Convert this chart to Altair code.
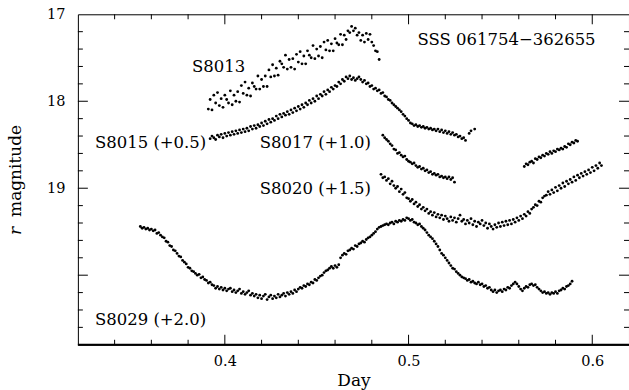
import altair as alt
import pandas as pd

# ---------------- data (plotted magnitudes incl. offsets) -------------
s8013_x = [0.391, 0.392, 0.393, 0.394, 0.395, 0.396, 0.397, 0.398, 0.399, 0.400,
           0.401, 0.402, 0.403, 0.404, 0.405, 0.406, 0.407, 0.408, 0.409, 0.410,
           0.411, 0.412, 0.413, 0.414, 0.415, 0.416, 0.417, 0.418, 0.419, 0.420,
           0.421, 0.422, 0.423, 0.424, 0.425, 0.426, 0.427, 0.428, 0.429, 0.430,
           0.431, 0.432, 0.433, 0.434, 0.435, 0.436, 0.437, 0.438, 0.439, 0.440,
           0.441, 0.442, 0.443, 0.444, 0.445, 0.446, 0.447, 0.448, 0.449, 0.450,
           0.451, 0.452, 0.453, 0.454, 0.455, 0.456, 0.457, 0.458, 0.459, 0.460,
           0.461, 0.462, 0.463, 0.464, 0.465, 0.466, 0.467, 0.468, 0.469, 0.470,
           0.471, 0.472, 0.473, 0.474, 0.475, 0.476, 0.477, 0.478, 0.479, 0.480,
           0.481, 0.482, 0.483, 0.484]
s8013_y = [18.09, 17.98, 18.10, 17.93, 18.02, 17.90, 18.05, 17.97, 18.07, 17.93,
           17.98, 18.02, 17.88, 18.04, 17.93, 18.00, 17.89, 18.01, 17.82, 17.91,
           17.78, 17.93, 17.85, 17.94, 17.79, 17.83, 17.86, 17.71, 17.86, 17.75,
           17.83, 17.71, 17.83, 17.64, 17.72, 17.58, 17.71, 17.62, 17.70, 17.54,
           17.57, 17.61, 17.47, 17.63, 17.52, 17.61, 17.51, 17.63, 17.46, 17.55,
           17.43, 17.57, 17.48, 17.57, 17.42, 17.47, 17.50, 17.36, 17.51, 17.40,
           17.48, 17.37, 17.50, 17.32, 17.41, 17.30, 17.42, 17.34, 17.42, 17.28,
           17.33, 17.35, 17.23, 17.35, 17.24, 17.29, 17.19, 17.21, 17.14, 17.19,
           17.16, 17.24, 17.21, 17.30, 17.24, 17.32, 17.22, 17.29, 17.23, 17.32,
           17.36, 17.42, 17.43, 17.52]

s8015_x = [0.392, 0.393, 0.394, 0.395, 0.396, 0.397, 0.398, 0.399, 0.400, 0.401,
           0.402, 0.403, 0.404, 0.405, 0.406, 0.407, 0.408, 0.409, 0.410, 0.411,
           0.412, 0.413, 0.414, 0.415, 0.416, 0.417, 0.418, 0.419, 0.420, 0.421,
           0.422, 0.423, 0.424, 0.425, 0.426, 0.427, 0.428, 0.429, 0.430, 0.431,
           0.432, 0.433, 0.434, 0.435, 0.436, 0.437, 0.438, 0.439, 0.440, 0.441,
           0.442, 0.443, 0.444, 0.445, 0.446, 0.447, 0.448, 0.449, 0.450, 0.451,
           0.452, 0.453, 0.454, 0.455, 0.456, 0.457, 0.458, 0.459, 0.460, 0.461,
           0.462, 0.463, 0.464, 0.465, 0.466, 0.467, 0.468, 0.469, 0.470, 0.471,
           0.472, 0.473, 0.474, 0.475, 0.476, 0.477, 0.478, 0.479, 0.480, 0.481,
           0.482, 0.483, 0.484, 0.485, 0.486, 0.487, 0.488, 0.489, 0.490, 0.491,
           0.492, 0.493, 0.494, 0.495, 0.496, 0.497, 0.498, 0.499, 0.500, 0.501,
           0.502, 0.503, 0.504, 0.505, 0.506, 0.507, 0.508, 0.509, 0.510, 0.511,
           0.512, 0.513, 0.514, 0.515, 0.516, 0.517, 0.518, 0.519, 0.520, 0.521,
           0.522, 0.523, 0.524, 0.525, 0.526, 0.527, 0.528, 0.529, 0.530, 0.531,
           0.533, 0.534, 0.536]
s8015_y = [18.43, 18.40, 18.42, 18.44, 18.39, 18.41, 18.38, 18.42, 18.37, 18.40,
           18.36, 18.39, 18.35, 18.38, 18.34, 18.37, 18.33, 18.36, 18.32, 18.35,
           18.31, 18.34, 18.29, 18.32, 18.28, 18.31, 18.27, 18.29, 18.25, 18.28,
           18.23, 18.26, 18.21, 18.24, 18.20, 18.22, 18.17, 18.20, 18.15, 18.18,
           18.14, 18.16, 18.12, 18.15, 18.10, 18.13, 18.08, 18.11, 18.06, 18.09,
           18.04, 18.07, 18.02, 18.04, 17.99, 18.02, 17.97, 18.00, 17.94, 17.97,
           17.92, 17.94, 17.89, 17.92, 17.87, 17.89, 17.84, 17.86, 17.82, 17.83,
           17.78, 17.80, 17.75, 17.77, 17.72, 17.74, 17.71, 17.75, 17.73, 17.76,
           17.74, 17.72, 17.75, 17.78, 17.76, 17.80, 17.79, 17.83, 17.82, 17.86,
           17.85, 17.88, 17.87, 17.91, 17.90, 17.94, 17.95, 17.98, 17.99, 18.02,
           18.04, 18.06, 18.08, 18.10, 18.12, 18.15, 18.17, 18.20, 18.22, 18.25,
           18.26, 18.28, 18.27, 18.29, 18.28, 18.30, 18.29, 18.31, 18.30, 18.32,
           18.31, 18.33, 18.32, 18.34, 18.32, 18.35, 18.33, 18.36, 18.34, 18.37,
           18.35, 18.38, 18.36, 18.39, 18.38, 18.41, 18.40, 18.43, 18.42, 18.45,
           18.37, 18.34, 18.32]

s8017_x = [0.486, 0.487, 0.488, 0.489, 0.490, 0.491, 0.492, 0.493, 0.494, 0.495,
           0.496, 0.497, 0.498, 0.499, 0.500, 0.501, 0.502, 0.503, 0.504, 0.505,
           0.506, 0.507, 0.508, 0.509, 0.510, 0.511, 0.512, 0.513, 0.514, 0.515,
           0.516, 0.517, 0.518, 0.519, 0.520, 0.521, 0.522, 0.523, 0.524, 0.525,
           0.563, 0.564, 0.565, 0.566, 0.567, 0.568, 0.569, 0.570, 0.571, 0.572,
           0.573, 0.574, 0.575, 0.576, 0.577, 0.578, 0.579, 0.580, 0.581, 0.582,
           0.583, 0.584, 0.585, 0.586, 0.587, 0.588, 0.589, 0.590, 0.591, 0.592]
s8017_y = [18.39, 18.42, 18.44, 18.46, 18.49, 18.51, 18.55, 18.56, 18.60, 18.59,
           18.62, 18.64, 18.63, 18.67, 18.69, 18.70, 18.72, 18.71, 18.74, 18.76,
           18.75, 18.78, 18.77, 18.80, 18.79, 18.82, 18.81, 18.84, 18.83, 18.85,
           18.84, 18.87, 18.86, 18.88, 18.87, 18.89, 18.87, 18.90, 18.88, 18.93,
           18.75, 18.72, 18.73, 18.70, 18.69, 18.71, 18.66, 18.67, 18.64, 18.65,
           18.62, 18.63, 18.60, 18.61, 18.58, 18.60, 18.57, 18.58, 18.55, 18.56,
           18.54, 18.55, 18.52, 18.53, 18.49, 18.50, 18.47, 18.48, 18.45, 18.46]

s8020_x = [0.485, 0.486, 0.487, 0.488, 0.489, 0.490, 0.491, 0.492, 0.493, 0.494,
           0.495, 0.496, 0.497, 0.498, 0.499, 0.500, 0.501, 0.502, 0.503, 0.504,
           0.505, 0.506, 0.507, 0.508, 0.509, 0.510, 0.511, 0.512, 0.513, 0.514,
           0.515, 0.516, 0.517, 0.518, 0.519, 0.520, 0.521, 0.522, 0.523, 0.524,
           0.525, 0.526, 0.527, 0.528, 0.529, 0.530, 0.531, 0.532, 0.533, 0.534,
           0.535, 0.536, 0.537, 0.538, 0.539, 0.540, 0.541, 0.542, 0.543, 0.544,
           0.545, 0.546, 0.547, 0.548, 0.549, 0.550, 0.551, 0.552, 0.553, 0.554,
           0.555, 0.556, 0.557, 0.558, 0.559, 0.560, 0.561, 0.562, 0.563, 0.564,
           0.565, 0.566, 0.567, 0.568, 0.569, 0.570, 0.571, 0.572, 0.573, 0.574,
           0.575, 0.576, 0.577, 0.578, 0.579, 0.580, 0.581, 0.582, 0.583, 0.584,
           0.585, 0.586, 0.587, 0.588, 0.589, 0.590, 0.591, 0.592, 0.593, 0.594,
           0.595, 0.596, 0.597, 0.598, 0.599, 0.600, 0.601, 0.602, 0.603, 0.604,
           0.605]
s8020_y = [18.84, 18.88, 18.87, 18.91, 18.89, 18.95, 18.92, 18.97, 19.00, 18.98,
           19.04, 19.01, 19.07, 19.05, 19.11, 19.12, 19.15, 19.13, 19.18, 19.16,
           19.21, 19.19, 19.24, 19.22, 19.26, 19.24, 19.29, 19.27, 19.31, 19.28,
           19.33, 19.30, 19.34, 19.31, 19.36, 19.32, 19.35, 19.38, 19.33, 19.37,
           19.34, 19.39, 19.35, 19.31, 19.38, 19.36, 19.41, 19.37, 19.40, 19.35,
           19.42, 19.38, 19.44, 19.39, 19.41, 19.37, 19.43, 19.40, 19.46, 19.41,
           19.44, 19.47, 19.42, 19.45, 19.40, 19.44, 19.39, 19.43, 19.38, 19.42,
           19.37, 19.41, 19.36, 19.39, 19.34, 19.37, 19.32, 19.35, 19.30, 19.32,
           19.27, 19.29, 19.24, 19.22, 19.19, 19.20, 19.15, 19.16, 19.11, 19.09,
           19.08, 19.04, 19.07, 19.02, 19.05, 18.99, 19.03, 18.97, 19.00, 18.94,
           18.98, 18.92, 18.95, 18.90, 18.93, 18.87, 18.91, 18.85, 18.88, 18.83,
           18.86, 18.81, 18.84, 18.79, 18.82, 18.76, 18.80, 18.74, 18.77, 18.71,
           18.74]

s8029_x = [0.354, 0.355, 0.356, 0.357, 0.358, 0.359, 0.360, 0.361, 0.362, 0.363,
           0.364, 0.365, 0.366, 0.367, 0.368, 0.369, 0.370, 0.371, 0.372, 0.373,
           0.374, 0.375, 0.376, 0.377, 0.378, 0.379, 0.380, 0.381, 0.382, 0.383,
           0.384, 0.385, 0.386, 0.387, 0.388, 0.389, 0.390, 0.391, 0.392, 0.393,
           0.394, 0.395, 0.396, 0.397, 0.398, 0.399, 0.400, 0.401, 0.402, 0.403,
           0.404, 0.405, 0.406, 0.407, 0.408, 0.409, 0.410, 0.411, 0.412, 0.413,
           0.414, 0.415, 0.416, 0.417, 0.418, 0.419, 0.420, 0.421, 0.422, 0.423,
           0.424, 0.425, 0.426, 0.427, 0.428, 0.429, 0.430, 0.431, 0.432, 0.433,
           0.434, 0.435, 0.436, 0.437, 0.438, 0.439, 0.440, 0.441, 0.442, 0.443,
           0.444, 0.445, 0.446, 0.447, 0.448, 0.449, 0.450, 0.451, 0.452, 0.453,
           0.454, 0.455, 0.456, 0.457, 0.458, 0.459, 0.460, 0.461, 0.462, 0.463,
           0.464, 0.465, 0.466, 0.467, 0.468, 0.469, 0.470, 0.471, 0.472, 0.473,
           0.474, 0.475, 0.476, 0.477, 0.478, 0.479, 0.480, 0.481, 0.482, 0.483,
           0.484, 0.485, 0.486, 0.487, 0.488, 0.489, 0.490, 0.491, 0.492, 0.493,
           0.494, 0.495, 0.496, 0.497, 0.498, 0.499, 0.500, 0.501, 0.502, 0.503,
           0.504, 0.505, 0.506, 0.507, 0.508, 0.509, 0.510, 0.511, 0.512, 0.513,
           0.514, 0.515, 0.516, 0.517, 0.518, 0.519, 0.520, 0.521, 0.522, 0.523,
           0.524, 0.525, 0.526, 0.527, 0.528, 0.529, 0.530, 0.531, 0.532, 0.533,
           0.534, 0.535, 0.536, 0.537, 0.538, 0.539, 0.540, 0.541, 0.542, 0.543,
           0.544, 0.545, 0.546, 0.547, 0.548, 0.549, 0.550, 0.551, 0.552, 0.553,
           0.554, 0.555, 0.556, 0.557, 0.558, 0.559, 0.560, 0.561, 0.562, 0.563,
           0.564, 0.565, 0.566, 0.567, 0.568, 0.569, 0.570, 0.571, 0.572, 0.573,
           0.574, 0.575, 0.576, 0.577, 0.578, 0.579, 0.580, 0.581, 0.582, 0.583,
           0.584, 0.585, 0.586, 0.587, 0.588, 0.589]
s8029_y = [19.44, 19.46, 19.45, 19.47, 19.46, 19.48, 19.47, 19.49, 19.48, 19.52,
           19.51, 19.54, 19.56, 19.57, 19.61, 19.62, 19.66, 19.67, 19.71, 19.72,
           19.75, 19.78, 19.79, 19.83, 19.85, 19.87, 19.91, 19.92, 19.95, 19.96,
           19.98, 20.00, 19.99, 20.03, 20.02, 20.05, 20.06, 20.09, 20.08, 20.11,
           20.12, 20.15, 20.13, 20.16, 20.14, 20.17, 20.15, 20.18, 20.16, 20.15,
           20.19, 20.17, 20.20, 20.18, 20.16, 20.21, 20.19, 20.22, 20.20, 20.18,
           20.23, 20.21, 20.24, 20.22, 20.26, 20.23, 20.27, 20.24, 20.22, 20.28,
           20.25, 20.23, 20.27, 20.24, 20.26, 20.22, 20.25, 20.23, 20.21, 20.24,
           20.20, 20.22, 20.19, 20.21, 20.17, 20.19, 20.16, 20.14, 20.15, 20.12,
           20.13, 20.10, 20.11, 20.08, 20.09, 20.05, 20.06, 20.03, 20.01, 20.00,
           19.97, 19.95, 19.94, 19.92, 19.90, 19.92, 19.89, 19.91, 19.88, 19.80,
           19.77, 19.75, 19.76, 19.72, 19.71, 19.69, 19.70, 19.66, 19.67, 19.64,
           19.63, 19.61, 19.62, 19.59, 19.57, 19.56, 19.54, 19.52, 19.50, 19.47,
           19.45, 19.44, 19.43, 19.42, 19.41, 19.42, 19.40, 19.39, 19.41, 19.38,
           19.39, 19.37, 19.38, 19.36, 19.37, 19.34, 19.35, 19.37, 19.36, 19.39,
           19.40, 19.42, 19.41, 19.44, 19.46, 19.48, 19.51, 19.54, 19.56, 19.58,
           19.61, 19.64, 19.67, 19.71, 19.75, 19.77, 19.80, 19.83, 19.86, 19.89,
           19.92, 19.93, 19.96, 19.98, 20.00, 20.02, 20.03, 20.04, 20.06, 20.05,
           20.08, 20.07, 20.09, 20.10, 20.08, 20.11, 20.10, 20.13, 20.12, 20.15,
           20.14, 20.17, 20.19, 20.17, 20.20, 20.18, 20.17, 20.19, 20.16, 20.17,
           20.14, 20.15, 20.12, 20.10, 20.08, 20.10, 20.13, 20.16, 20.18, 20.15,
           20.13, 20.14, 20.11, 20.10, 20.12, 20.11, 20.14, 20.16, 20.18, 20.20,
           20.19, 20.21, 20.20, 20.22, 20.20, 20.21, 20.19, 20.21, 20.18, 20.17,
           20.15, 20.16, 20.13, 20.12, 20.10, 20.07]

# annotation texts and their anchor points (data units)
label_text = ["S8013", "S8015 (+0.5)", "S8017 (+1.0)", "S8020 (+1.5)",
              "S8029 (+2.0)", "SSS 061754\u2212362655"]
label_x = [0.3821, 0.3293, 0.4190, 0.4190, 0.3293, 0.5049]
label_y = [17.61, 18.48, 18.48, 19.01, 20.51, 17.30]

# axis ticks
x_label_vals = [0.4, 0.5, 0.6]
y_label_vals = [17, 18, 19]
x_major = [0.4, 0.5, 0.6]
x_minor = [0.34, 0.36, 0.38, 0.42, 0.44, 0.46, 0.48, 0.52, 0.54, 0.56, 0.58]
y_major = [18, 19, 20]
y_minor = [17.2, 17.4, 17.6, 17.8, 18.2, 18.4, 18.6, 18.8,
           19.2, 19.4, 19.6, 19.8, 20.2, 20.4, 20.6]

# ---------------- chart -------------------------------------------------------------------
W, H = 552, 331
FONT = "DejaVu Serif"
xs = alt.Scale(domain=[0.32, 0.62], nice=False, zero=False)
ys = alt.Scale(domain=[17, 20.8], reverse=True, nice=False, zero=False)

xa = alt.Axis(values=x_label_vals, format=".1f", ticks=False, tickSize=0,
              domain=False, grid=False, labelPadding=10, labelFontSize=14.5,
              labelFont=FONT, labelColor="black", title="Day",
              titleFont=FONT, titleFontSize=17, titleFontWeight="normal",
              titleColor="black", titleY=36, titleBaseline="middle")
ya = alt.Axis(values=y_label_vals, format="d", ticks=False, tickSize=0,
              domain=False, grid=False, labelPadding=13, labelFontSize=14.5,
              labelFont=FONT, labelColor="black", title=" ")


def X():
    return alt.X("day:Q", scale=xs, axis=xa)


def Y():
    return alt.Y("mag:Q", scale=ys, axis=ya)


series = [("S8013", s8013_x, s8013_y), ("S8015", s8015_x, s8015_y),
          ("S8017", s8017_x, s8017_y), ("S8020", s8020_x, s8020_y),
          ("S8029", s8029_x, s8029_y)]
df = pd.concat([pd.DataFrame({"day": x, "mag": y, "set": n}) for n, x, y in series],
               ignore_index=True)

points = alt.Chart(df).mark_circle(size=8, color="black", opacity=1).encode(x=X(), y=Y())

lab_df = pd.DataFrame({"day": label_x, "mag": label_y, "t": label_text})
labels = alt.Chart(lab_df).mark_text(
    align="left", baseline="middle", font=FONT, fontSize=16.5, color="black"
).encode(x=X(), y=Y(), text="t:N")


def xticks(vals, length, top):
    d = pd.DataFrame({"day": vals})
    y0, y1 = (0, length) if top else (H - length, H)
    return alt.Chart(d).mark_rule(color="black", strokeWidth=1).encode(
        x=X(), y=alt.value(y0), y2=alt.value(y1))


def yticks(vals, length, right):
    d = pd.DataFrame({"mag": vals})
    x0, x1 = (W - length, W) if right else (0, length)
    return alt.Chart(d).mark_rule(color="black", strokeWidth=1).encode(
        y=Y(), x=alt.value(x0), x2=alt.value(x1))


ticks = [xticks(x_major, 10, False), xticks(x_major, 10, True),
         xticks(x_minor, 5, False), xticks(x_minor, 5, True),
         yticks(y_major, 10, False), yticks(y_major, 10, True),
         yticks(y_minor, 5, False), yticks(y_minor, 5, True)]

one = pd.DataFrame({"a": [0]})
bottom_line = alt.Chart(one).mark_rule(color="black", strokeWidth=2).encode(
    x=alt.value(0), x2=alt.value(W), y=alt.value(H))

ytitle_r = alt.Chart(pd.DataFrame({"t": ["r"]})).mark_text(
    angle=270, align="left", baseline="alphabetic", font=FONT, fontStyle="italic",
    fontSize=17, color="black").encode(x=alt.value(-57), y=alt.value(221), text="t:N")
ytitle_m = alt.Chart(pd.DataFrame({"t": ["magnitude"]})).mark_text(
    angle=270, align="left", baseline="alphabetic", font=FONT,
    fontSize=17, color="black").encode(x=alt.value(-57), y=alt.value(203), text="t:N")

chart = alt.layer(points, labels, *ticks, bottom_line, ytitle_r, ytitle_m).properties(
    width=W, height=H,
    background="white",
    autosize=alt.AutoSizeParams(type="none"),
    padding={"left": 78, "top": 14, "right": 0, "bottom": 45},
).configure_view(stroke="black", strokeWidth=1)

chart.save("out.html", embed_options={"renderer": "svg", "actions": False})
